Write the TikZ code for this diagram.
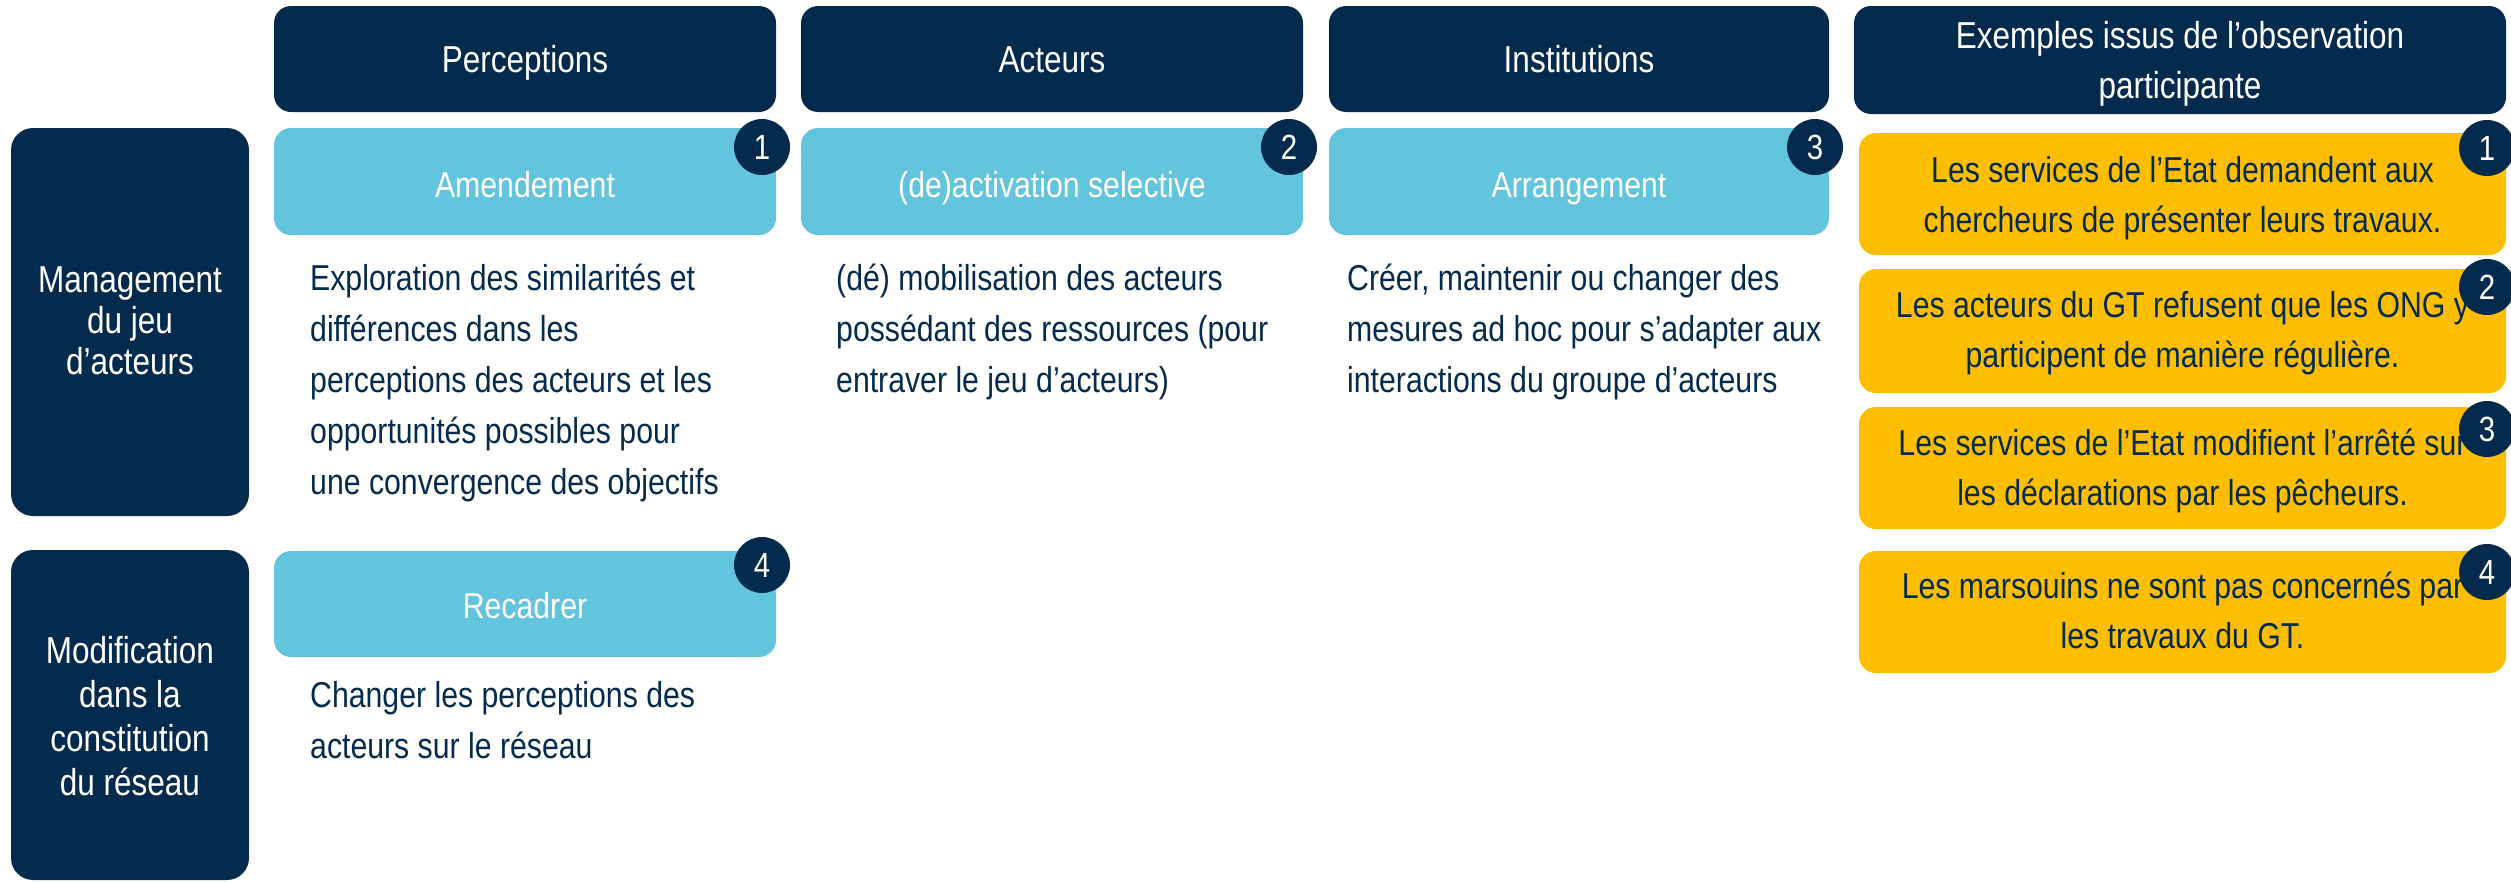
\documentclass[tikz,border=0pt]{standalone}
\usepackage{fontspec}
\setmainfont{Liberation Sans}[FakeStretch=0.84]
\definecolor{navy}{RGB}{4,42,77}
\definecolor{sky}{RGB}{99,196,221}
\definecolor{gold}{RGB}{253,190,0}
\tikzset{
  hdr/.style={fill=navy, draw=none, rounded corners=17pt, inner sep=0pt, outer sep=0pt},
  side/.style={fill=navy, draw=none, rounded corners=22pt, inner sep=0pt, outer sep=0pt},
  skybox/.style={fill=sky, draw=none, rounded corners=17pt, inner sep=0pt, outer sep=0pt},
  goldbox/.style={fill=gold, draw=none, rounded corners=17pt, inner sep=0pt, outer sep=0pt},
  badge/.style={circle, fill=navy, draw=none, minimum size=56pt, inner sep=0pt, text=white, font={\fontsize{35}{40}\selectfont}},
  whitetxt/.style={text=white, inner sep=0pt, font={\fontsize{36}{50}\selectfont}},
  hdrtxt/.style={text=white, inner sep=0pt, font={\fontsize{37.5}{50}\selectfont}},
  bodytxt/.style={text=navy, inner sep=0pt, align=left, anchor=north west, font={\fontsize{36}{51}\selectfont}},
  goldtxt/.style={text=navy, inner sep=0pt, align=center, anchor=north, font={\fontsize{36}{50}\selectfont}},
}
\begin{document}
\begin{tikzpicture}[x=1pt, y=-1pt]
\useasboundingbox (0,0) rectangle (2511,881);
\begin{scope}
\clip (0,0) rectangle (2511,881);
% column headers
\node[hdr, minimum width=502pt, minimum height=106pt] (hP) at (525,59) {};
\node[hdr, minimum width=502pt, minimum height=106pt] (hA) at (1052,59) {};
\node[hdr, minimum width=500pt, minimum height=106pt] (hI) at (1579,59) {};
\node[hdr, minimum width=652pt, minimum height=108pt] (hE) at (2180,60) {};
\node[hdrtxt, anchor=base] (tP) at (525,72) {Perceptions};
\node[hdrtxt, anchor=base] (tA) at (1052,72) {Acteurs};
\node[hdrtxt, anchor=base] (tI) at (1579,72) {Institutions};
\node[hdrtxt, anchor=north, align=center] (tE) at (2180,13) {\strut Exemples issus de l’observation\\\strut participante};
% row headers
\node[side, minimum width=238pt, minimum height=388pt] (lM) at (130,322) {};
\node[side, minimum width=238pt, minimum height=330pt] (lR) at (130,715) {};
\node[text=white, inner sep=0pt, align=center, anchor=north, font={\fontsize{37.5}{41}\selectfont}] (tM) at (130,263.3) {\strut Management\\\strut du jeu\\\strut d’acteurs};
\node[text=white, inner sep=0pt, align=center, anchor=north, font={\fontsize{37.5}{44}\selectfont}] (tR) at (130,632.2) {\strut Modification\\\strut dans la\\\strut constitution\\\strut du réseau};
% light blue boxes
\node[skybox, minimum width=502pt, minimum height=107pt] (bA) at (525,181.5) {};
\node[skybox, minimum width=502pt, minimum height=107pt] (bD) at (1052,181.5) {};
\node[skybox, minimum width=500pt, minimum height=107pt] (bG) at (1579,181.5) {};
\node[skybox, minimum width=502pt, minimum height=106pt] (bC) at (525,604) {};
\node[whitetxt, anchor=base] (tbA) at (525,197) {Amendement};
\node[whitetxt, anchor=base] (tbD) at (1052,197) {(de)activation selective};
\node[whitetxt, anchor=base] (tbG) at (1579,197) {Arrangement};
\node[whitetxt, anchor=base] (tbC) at (525,618) {Recadrer};
% descriptions
\node[bodytxt] (dA) at (310,254.3) {\strut Exploration des similarités et\\\strut différences dans les\\\strut perceptions des acteurs et les\\\strut opportunités possibles pour\\\strut une convergence des objectifs};
\node[bodytxt] (dD) at (836,254.3) {\strut (dé) mobilisation des acteurs\\\strut possédant des ressources (pour\\\strut entraver le jeu d’acteurs)};
\node[bodytxt] (dG) at (1347,254.3) {\strut Créer, maintenir ou changer des\\\strut mesures ad hoc pour s’adapter aux\\\strut interactions du groupe d’acteurs};
\node[bodytxt] (dC) at (310,671.3) {\strut Changer les perceptions des\\\strut acteurs sur le réseau};
% examples
\node[goldbox, minimum width=647pt, minimum height=122pt] (y1) at (2182.5,194) {};
\node[goldbox, minimum width=647pt, minimum height=124pt] (y2) at (2182.5,331) {};
\node[goldbox, minimum width=647pt, minimum height=122pt] (y3) at (2182.5,468) {};
\node[goldbox, minimum width=647pt, minimum height=122pt] (y4) at (2182.5,612) {};
\node[goldtxt] (ty1) at (2182.5,147) {\strut Les services de l’Etat demandent aux\\\strut chercheurs de présenter leurs travaux.};
\node[goldtxt] (ty2) at (2182.5,282) {\strut Les acteurs du GT refusent que les ONG y\\\strut participent de manière régulière.};
\node[goldtxt] (ty3) at (2182.5,420) {\strut Les services de l’Etat modifient l’arrêté sur\\\strut les déclarations par les pêcheurs.};
\node[goldtxt] (ty4) at (2182.5,563) {\strut Les marsouins ne sont pas concernés par\\\strut les travaux du GT.};
% badges
\node[badge] (n1) at (762,147) {1};
\node[badge] (n2) at (1289,147) {2};
\node[badge] (n3) at (1815,147) {3};
\node[badge] (n4) at (762,565) {4};
\node[badge] (m1) at (2487,148) {1};
\node[badge] (m2) at (2487,287) {2};
\node[badge] (m3) at (2487,429) {3};
\node[badge] (m4) at (2487,572) {4};
\end{scope}
\end{tikzpicture}
\end{document}
